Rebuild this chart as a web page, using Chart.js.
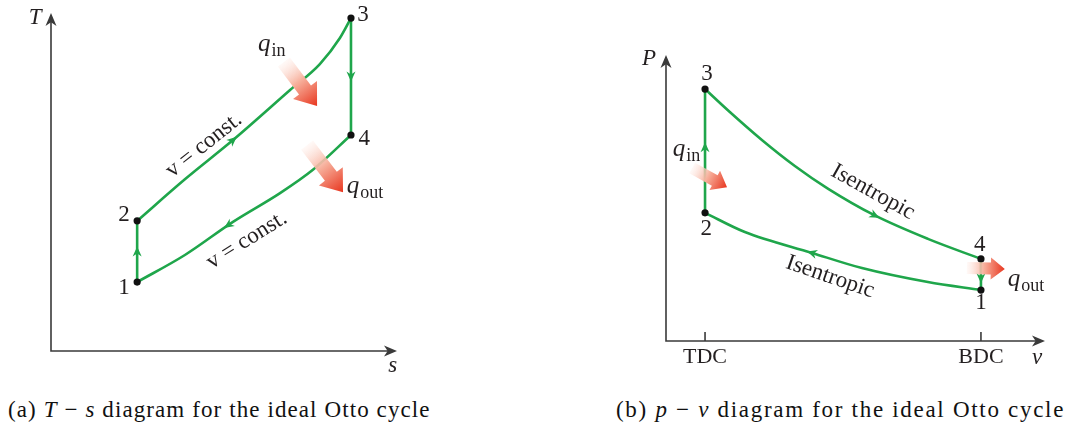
<!DOCTYPE html>
<html>
<head>
<meta charset="utf-8">
<script src="https://cdn.jsdelivr.net/npm/chart.js@4.4.1/dist/chart.umd.min.js"></script>
<style>
  body { margin: 0; background: #fff; width: 1074px; height: 429px; position: relative; overflow: hidden; }
  canvas { position: absolute; top: 0; }
  #tsChart { left: 0; }
  #pvChart { left: 620px; }
  .cap { position: absolute; top: 397px; font-family: "Liberation Serif", serif; font-size: 23px; letter-spacing: 1.1px; color: #111; white-space: nowrap; }
</style>
</head>
<body>
<canvas id="tsChart" width="420" height="385"></canvas>
<canvas id="pvChart" width="454" height="385"></canvas>
<div class="cap" style="left:8px">(a) <i>T</i> &minus; <i>s</i> diagram for the ideal Otto cycle</div>
<div class="cap" style="left:616px; letter-spacing:1.7px">(b) <i>p</i> &minus; <i>&nu;</i> diagram for the ideal Otto cycle</div>

<script>
// ----- T-s diagram data (s and T in arbitrary units, 0..10) -----
const tsStateLabels = ["1", "2", "3", "4"];
const tsStateS = [2.49, 2.49, 8.67, 8.67];
const tsStateT = [2.04, 3.85, 9.85, 6.39];
// 2 -> 3 constant volume heat addition
const tsCurve23S = [2.49, 3.87, 5.26, 6.91, 7.77, 8.35, 8.67];
const tsCurve23T = [3.85, 5.08, 6.24, 7.72, 8.49, 9.26, 9.85];
// 4 -> 1 constant volume heat rejection
const tsCurve41S = [8.67, 7.57, 6.62, 5.26, 3.87, 2.49];
const tsCurve41T = [6.39, 5.36, 4.67, 3.82, 2.84, 2.04];

// ----- p-v diagram data -----
const pvTickValues = [1.03, 8.31];
const pvTickLabels = ["TDC", "BDC"];
const pvStateLabels = ["1", "2", "3", "4"];
const pvStateV = [8.31, 1.03, 1.03, 8.31];
const pvStateP = [1.78, 4.48, 8.81, 2.87];
// 3 -> 4 isentropic expansion
const pvCurve34V = [1.03, 1.64, 2.53, 3.40, 4.27, 5.51, 6.91, 8.31];
const pvCurve34P = [8.81, 8.06, 7.03, 6.12, 5.33, 4.39, 3.57, 2.87];
// 1 -> 2 isentropic compression
const pvCurve12V = [8.31, 6.91, 5.17, 3.85, 2.08, 1.03];
const pvCurve12P = [1.78, 2.06, 2.55, 3.08, 3.81, 4.48];

const green = "#1fa64b";
const axisColor = "#3a3a3a";
const textColor = "#231f20";
const serif = '"Liberation Serif", "Times New Roman", serif';

const zip = (xs, ys) => xs.map((x, i) => ({ x: x, y: ys[i] }));
const pick = (xs, ys, idx) => idx.map(i => ({ x: xs[i], y: ys[i] }));

function lineSet(data) {
  return {
    data: data,
    showLine: true,
    borderColor: green,
    borderWidth: 2.6,
    pointRadius: 0,
    cubicInterpolationMode: "monotone",
    fill: false
  };
}

function stateSet(data) {
  return {
    data: data,
    showLine: false,
    pointRadius: 3.6,
    pointBackgroundColor: "#111",
    pointBorderWidth: 0
  };
}

// small green arrowhead centred at (x, y)
function flowArrow(ctx, x, y, ang) {
  const len = 10, half = 4.5;
  ctx.save();
  ctx.translate(x, y);
  ctx.rotate(ang);
  ctx.translate(len / 2, 0);
  ctx.beginPath();
  ctx.moveTo(0, 0);
  ctx.lineTo(-len, -half);
  ctx.lineTo(-len * 0.7, 0);
  ctx.lineTo(-len, half);
  ctx.closePath();
  ctx.fillStyle = green;
  ctx.fill();
  ctx.restore();
}

function axisArrow(ctx, x, y, ang) {
  const len = 13, half = 5.5;
  ctx.save();
  ctx.translate(x, y);
  ctx.rotate(ang);
  ctx.beginPath();
  ctx.moveTo(0, 0);
  ctx.lineTo(-len, -half);
  ctx.lineTo(-len * 0.72, 0);
  ctx.lineTo(-len, half);
  ctx.closePath();
  ctx.fillStyle = axisColor;
  ctx.fill();
  ctx.restore();
}

// fat red "heat" arrow fading out at the tail
function heatArrow(ctx, x0, y0, x1, y1, shaft, headW, headL) {
  const dx = x1 - x0, dy = y1 - y0, L = Math.hypot(dx, dy);
  const ux = dx / L, uy = dy / L, nx = -uy, ny = ux;
  const bx = x1 - ux * headL, by = y1 - uy * headL;
  const g = ctx.createLinearGradient(x0, y0, x1, y1);
  g.addColorStop(0, "rgba(255,240,235,0.4)");
  g.addColorStop(0.45, "#f7b09c");
  g.addColorStop(1, "#e8361f");
  ctx.beginPath();
  ctx.moveTo(x0 + nx * shaft / 2, y0 + ny * shaft / 2);
  ctx.lineTo(bx + nx * shaft / 2, by + ny * shaft / 2);
  ctx.lineTo(bx + nx * headW / 2, by + ny * headW / 2);
  ctx.lineTo(x1, y1);
  ctx.lineTo(bx - nx * headW / 2, by - ny * headW / 2);
  ctx.lineTo(bx - nx * shaft / 2, by - ny * shaft / 2);
  ctx.lineTo(x0 - nx * shaft / 2, y0 - ny * shaft / 2);
  ctx.closePath();
  ctx.fillStyle = g;
  ctx.fill();
}

function drawLabel(ctx, lb, x, y) {
  const size = lb.size || 22;
  ctx.save();
  ctx.translate(x, y);
  if (lb.angle) ctx.rotate(lb.angle * Math.PI / 180);
  ctx.fillStyle = textColor;
  ctx.textBaseline = "middle";
  ctx.font = (lb.italic ? "italic " : "") + size + "px " + serif;
  let w = ctx.measureText(lb.text).width;
  let subW = 0;
  if (lb.sub) {
    ctx.font = Math.round(size * 0.7) + "px " + serif;
    subW = ctx.measureText(lb.sub).width;
  }
  let start = lb.align === "left" ? 0 : -(w + subW) / 2;
  ctx.font = (lb.italic ? "italic " : "") + size + "px " + serif;
  ctx.textAlign = "left";
  ctx.fillText(lb.text, start, 0);
  if (lb.sub) {
    ctx.font = Math.round(size * 0.7) + "px " + serif;
    ctx.fillText(lb.sub, start + w + 1, size * 0.28);
  }
  ctx.restore();
}

const ottoPlugin = {
  id: "otto",
  beforeDatasetsDraw(chart, args, opts) {
    const ctx = chart.ctx, a = chart.chartArea;
    ctx.save();
    ctx.strokeStyle = axisColor;
    ctx.lineWidth = 1.6;
    ctx.beginPath();
    ctx.moveTo(a.left, a.top + 6);
    ctx.lineTo(a.left, a.bottom);
    ctx.lineTo(a.right - 6, a.bottom);
    ctx.stroke();
    axisArrow(ctx, a.left, a.top, -Math.PI / 2);
    axisArrow(ctx, a.right, a.bottom, 0);
    (opts.ticks || []).forEach(v => {
      const x = chart.scales.x.getPixelForValue(v);
      ctx.beginPath();
      ctx.moveTo(x, a.bottom - 9);
      ctx.lineTo(x, a.bottom);
      ctx.stroke();
    });
    ctx.restore();
  },
  afterDatasetsDraw(chart, args, opts) {
    const ctx = chart.ctx, sx = chart.scales.x, sy = chart.scales.y;
    // direction arrows on the process lines
    (opts.flow || []).forEach(f => {
      const pts = chart.getDatasetMeta(f.ds).data;
      const p = pts[f.seg], q = pts[f.seg + 1];
      const x = p.x + (q.x - p.x) * f.t, y = p.y + (q.y - p.y) * f.t;
      let from = p;
      if (f.t === 0 && f.seg > 0) from = pts[f.seg - 1];
      flowArrow(ctx, x, y, Math.atan2(q.y - from.y, q.x - from.x));
    });
    (opts.heat || []).forEach(h => {
      heatArrow(ctx, sx.getPixelForValue(h.from[0]), sy.getPixelForValue(h.from[1]),
        sx.getPixelForValue(h.to[0]), sy.getPixelForValue(h.to[1]), h.shaft, h.headW, h.headL);
    });
    (opts.labels || []).forEach(lb => {
      drawLabel(ctx, lb, sx.getPixelForValue(lb.x), sy.getPixelForValue(lb.y));
    });
  }
};

function baseOptions(padding, plug) {
  return {
    responsive: false,
    animation: false,
    layout: { padding: padding },
    plugins: { legend: { display: false }, tooltip: { enabled: false }, otto: plug },
    scales: {
      x: { type: "linear", display: false, min: 0, max: 10 },
      y: { type: "linear", display: false, min: 0, max: 10 }
    }
  };
}

// ----- Chart (a): T-s -----
const tsLabels = tsStateLabels.map((t, i) => ({ text: t, size: 23, x: [2.11, 2.11, 9.02, 9.05][i], y: [1.86, 4.02, 9.94, 6.27][i] }));
new Chart(document.getElementById("tsChart"), {
  type: "scatter",
  data: {
    datasets: [
      stateSet(zip(tsStateS, tsStateT)),
      lineSet(pick(tsStateS, tsStateT, [0, 1])),
      lineSet(zip(tsCurve23S, tsCurve23T)),
      lineSet(pick(tsStateS, tsStateT, [2, 3])),
      lineSet(zip(tsCurve41S, tsCurve41T))
    ]
  },
  options: baseOptions({ left: 51, right: 23, top: 13, bottom: 34 }, {
    flow: [
      { ds: 1, seg: 0, t: 0.5 },
      { ds: 2, seg: 2, t: 0 },
      { ds: 3, seg: 0, t: 0.5 },
      { ds: 4, seg: 3, t: 0.1 }
    ],
    heat: [
      { from: [6.73, 8.55], to: [7.69, 7.25], shaft: 15, headW: 30, headL: 20 },
      { from: [7.40, 6.09], to: [8.44, 4.70], shaft: 15, headW: 30, headL: 20 }
    ],
    labels: tsLabels.concat([
      { text: "T", italic: true, size: 23, x: -0.46, y: 9.85 },
      { text: "s", italic: true, size: 23, x: 9.88, y: -0.44 },
      { text: "q", sub: "in", italic: true, size: 25, align: "left", x: 5.98, y: 9.08 },
      { text: "q", sub: "out", italic: true, size: 25, align: "left", x: 8.55, y: 4.88 },
      { text: "v = const.", size: 23, angle: -38.5, x: 4.42, y: 6.09 },
      { text: "v = const.", size: 23, angle: -32, x: 5.66, y: 3.28 }
    ])
  }),
  plugins: [ottoPlugin]
});

// ----- Chart (b): p-v -----
const pvLabels = pvStateLabels.map((t, i) => ({ text: t, size: 23, x: [8.31, 1.06, 1.08, 8.28][i], y: [1.33, 3.92, 9.34, 3.36][i] }));
const pvTickText = pvTickLabels.map((t, i) => ({ text: t, size: 22, x: pvTickValues[i], y: -0.56 }));
new Chart(document.getElementById("pvChart"), {
  type: "scatter",
  data: {
    datasets: [
      stateSet(zip(pvStateV, pvStateP)),
      lineSet(pick(pvStateV, pvStateP, [1, 2])),
      lineSet(zip(pvCurve34V, pvCurve34P)),
      lineSet(pick(pvStateV, pvStateP, [3, 0])),
      lineSet(zip(pvCurve12V, pvCurve12P))
    ]
  },
  options: baseOptions({ left: 46, right: 29, top: 55, bottom: 44 }, {
    ticks: pvTickValues,
    flow: [
      { ds: 1, seg: 0, t: 0.53 },
      { ds: 2, seg: 5, t: 0 },
      { ds: 3, seg: 0, t: 0.62 },
      { ds: 4, seg: 3, t: 0 }
    ],
    heat: [
      { from: [0.69, 6.05], to: [1.61, 5.38], shaft: 12, headW: 22, headL: 14 },
      { from: [7.94, 2.55], to: [8.94, 2.52], shaft: 12, headW: 22, headL: 14 }
    ],
    labels: pvLabels.concat(pvTickText, [
      { text: "P", italic: true, size: 23, x: -0.45, y: 9.86 },
      { text: "v", italic: true, size: 23, x: 9.79, y: -0.59 },
      { text: "q", sub: "in", italic: true, size: 25, align: "left", x: 0.18, y: 6.71 },
      { text: "q", sub: "out", italic: true, size: 25, align: "left", x: 9.02, y: 2.17 },
      { text: "Isentropic", size: 23, angle: 29, x: 5.46, y: 5.21 },
      { text: "Isentropic", size: 23, angle: 19, x: 4.33, y: 2.24 }
    ])
  }),
  plugins: [ottoPlugin]
});
</script>
</body>
</html>
